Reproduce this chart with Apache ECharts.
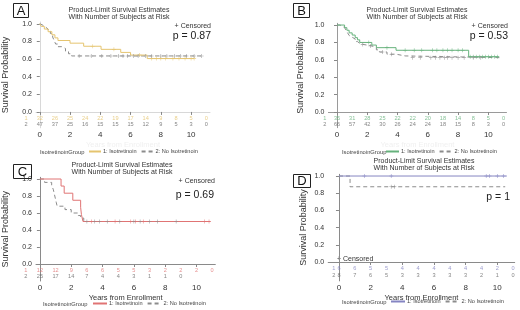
<!DOCTYPE html>
<html lang="en">
<head>
<meta charset="UTF-8">
<title>Survival by isotretinoin group</title>
<script src="https://cdn.jsdelivr.net/npm/echarts@6/dist/echarts.min.js"></script>
<style>html,body{margin:0;padding:0;background:#fff}</style>
</head>
<body>
<div id="main" style="width:520px;height:310px;"></div>
<script>
// at-risk tables (years 0..11)
var years = [0, 1, 2, 3, 4, 5, 6, 7, 8, 9, 10, 11];
var riskA1 = [32, 26, 25, 24, 22, 19, 17, 14, 9, 8, 5, 0];
var riskA2 = [47, 37, 25, 16, 15, 15, 15, 12, 9, 5, 3, 0];
var riskB1 = [35, 31, 28, 25, 22, 22, 20, 18, 14, 8, 5, 0];
var riskB2 = [66, 57, 42, 30, 26, 24, 24, 18, 15, 8, 3, 0];
var riskC1 = [12, 12, 9, 6, 6, 5, 5, 3, 2, 2, 2, 0];
var riskC2 = [25, 17, 14, 7, 4, 4, 3, 1, 1, 0];
var riskD1 = [6, 6, 5, 5, 4, 4, 4, 4, 4, 4, 2, 0];
var riskD2 = [8, 7, 6, 5, 3, 3, 3, 3, 3, 2, 1, 0];

// survival curves [years, probability]
var survA1 = [[0,1],[0.1,0.97],[0.3,0.94],[0.55,0.91],[0.8,0.875],[1.0,0.84],[1.2,0.81],[2.0,0.78],[2.9,0.745],[4.05,0.71],[5.35,0.675],[6.0,0.645],[7.1,0.605],[10.2,0.605]];
var survA2 = [[0,1],[0.1,0.98],[0.25,0.96],[0.4,0.94],[0.55,0.915],[0.7,0.89],[0.85,0.85],[0.95,0.81],[1.05,0.77],[1.2,0.74],[1.45,0.72],[1.7,0.69],[1.9,0.66],[2.1,0.635],[10.7,0.635]];
var survB1 = [[0,1],[0.5,0.97],[0.65,0.94],[0.8,0.91],[1.0,0.885],[1.2,0.855],[1.35,0.83],[1.5,0.8],[2.3,0.77],[2.6,0.74],[3.9,0.71],[8.7,0.635],[10.7,0.635]];
var survB2 = [[0,1],[0.2,0.985],[0.35,0.97],[0.5,0.955],[0.6,0.94],[0.7,0.91],[0.8,0.88],[0.9,0.86],[1.0,0.84],[1.2,0.81],[1.35,0.79],[1.5,0.775],[1.8,0.76],[2.3,0.74],[2.6,0.715],[2.8,0.69],[3.3,0.665],[3.9,0.645],[4.5,0.625],[10.8,0.625]];
var survC1 = [[0,1],[1.35,0.917],[1.55,0.833],[2.1,0.75],[2.6,0.667],[2.65,0.583],[2.75,0.5],[10.9,0.5]];
var survC2 = [[0,1],[0.3,0.96],[0.75,0.92],[0.85,0.88],[0.9,0.84],[0.95,0.8],[1.0,0.76],[1.05,0.72],[1.1,0.68],[1.6,0.64],[2.0,0.6],[2.45,0.57],[2.6,0.54],[2.8,0.5],[8.7,0.5]];
var survD1 = [[0,1],[10.6,1]];
var survD2 = [[0,1],[0.7,0.875],[10.5,0.875]];

// censoring times
var censA1 = [3.5, 4.9, 6.6, 7.4, 7.7, 8.0, 8.3, 8.8, 9.2, 9.6, 10.0, 10.2];
var censA2 = [2.6, 3.4, 4.1, 4.7, 5.2, 5.5, 5.8, 6.2, 6.5, 7.0, 7.4, 8.0, 8.4, 8.9, 9.3, 9.7, 10.2, 10.7];
var censB1 = [2.1, 3.3, 4.5, 5.1, 5.6, 6.3, 6.6, 7.0, 7.3, 7.6, 8.0, 8.3, 8.8, 9.0, 9.2, 9.4, 9.6, 9.8, 10.0, 10.2, 10.4, 10.6];
var censB2 = [1.7, 2.2, 3.0, 3.6, 5.0, 5.5, 6.2, 6.5, 6.8, 7.1, 7.3, 7.6, 8.0, 8.4, 9.0, 9.5];
var censC1 = [3.3, 4.8, 5.8, 6.1, 6.6, 10.5, 10.8];
var censC2 = [3.0, 3.5, 3.8, 4.3, 5.1, 6.0, 6.4, 7.0, 7.5, 8.7];
var censD1 = [1.6, 3.3, 9.3, 9.5, 10.0, 10.4];
var censD2 = [3.3, 3.5];

var pValues = ['p = 0.87', 'p = 0.53', 'p = 0.69', 'p = 1'];
var xTicks = [0, 2, 4, 6, 8, 10];
var yTicks = [0, 0.2, 0.4, 0.6, 0.8, 1.0];

var FONT = '"Liberation Sans", Arial, sans-serif';
var GREY = '#8c8c8c';
var plusIcon = 'path://M4,0h1.4v4h4v1.4h-4v4h-1.4v-4h-4v-1.4h4z';

function survAt(curve, t) {
    var s = curve[0][1];
    for (var i = 0; i < curve.length; i++) {
        if (curve[i][0] <= t) s = curve[i][1];
    }
    return s;
}

// panel layout
var panels = [
    {id: 'A', color: '#e5c46f', s1: survA1, s2: survA2, c1: censA1, c2: censA2, r1: riskA1, r2: riskA2,
     grid: {left: 32, top: 22, width: 178, height: 105.8}, xr: [-0.25, 11.25], yr: [-0.18, 1.02], rows: [-0.07, -0.137], rowX: -0.9,
     axis: '#d8d8d8', nameGap: 26, xname: '#f0f0f0'},
    {id: 'B', color: '#66b27c', s1: survB1, s2: survB2, c1: censB1, c2: censB2, r1: riskB1, r2: riskB2,
     grid: {left: 328.4, top: 23.3, width: 178.1, height: 104.4}, xr: [-0.57, 11.2], yr: [-0.18, 1.02], rows: [-0.07, -0.137], rowX: -0.8,
     axis: '#9a9a9a', nameGap: 23, xname: '#f0f0f0'},
    {id: 'C', color: '#e07474', s1: survC1, s2: survC2, c1: censC1, c2: censC2, r1: riskC1, r2: riskC2,
     grid: {left: 33.3, top: 177.3, width: 182, height: 103.7}, xr: [-0.25, 11.2], yr: [-0.2, 1.02], rows: [-0.078, -0.152], rowX: -0.9,
     axis: '#8a8a8a', nameGap: 26, xname: '#333'},
    {id: 'D', color: '#8585c2', s1: survD1, s2: survD2, c1: censD1, c2: censD2, r1: riskD1, r2: riskD2,
     grid: {left: 328.2, top: 174.3, width: 186.5, height: 106.6}, xr: [-0.68, 11.1], yr: [-0.22, 1.02], rows: [-0.08, -0.158], rowX: -0.32,
     axis: '#8a8a8a', nameGap: 20, xname: '#333'}
];

var grids = [], xAxes = [], yAxes = [], series = [], legends = [];

panels.forEach(function (p, i) {
    grids.push(p.grid);
    xAxes.push({
        type: 'value', gridIndex: i, min: p.xr[0], max: p.xr[1],
        splitLine: {show: false},
        axisLine: {lineStyle: {color: p.axis, width: 1}},
        axisTick: {customValues: xTicks, length: 3, lineStyle: {color: '#888'}},
        axisLabel: {customValues: xTicks, fontSize: 8, color: '#333', margin: 3, fontFamily: FONT},
        name: 'Years from Enrollment', nameLocation: 'middle', nameGap: 13,
        nameTextStyle: {fontSize: 7.5, color: p.xname, fontFamily: FONT}
    });
    yAxes.push({
        type: 'value', gridIndex: i, min: p.yr[0], max: p.yr[1],
        splitLine: {show: false},
        axisLine: {show: true, lineStyle: {color: p.axis, width: 1}},
        axisTick: {customValues: yTicks, length: 3, lineStyle: {color: '#888'}},
        axisLabel: {
            customValues: yTicks, fontSize: 7, color: '#333', margin: 4, fontFamily: FONT,
            formatter: function (v) { return v.toFixed(1); }
        },
        name: 'Survival Probability', nameLocation: 'middle', nameGap: p.nameGap, nameRotate: 90,
        nameTextStyle: {fontSize: 9, color: '#333', fontFamily: FONT}
    });
    series.push({
        name: p.id + '1', type: 'line', xAxisIndex: i, yAxisIndex: i, step: 'end', data: p.s1,
        symbol: 'none', lineStyle: {color: p.color, width: 1}, itemStyle: {color: p.color}, z: 3
    });
    series.push({
        name: p.id + '2', type: 'line', xAxisIndex: i, yAxisIndex: i, step: 'end', data: p.s2,
        symbol: 'none', lineStyle: {color: GREY, width: 1, type: [4, 3]}, itemStyle: {color: GREY}, z: 2
    });
    series.push({
        name: p.id + '1c', type: 'scatter', xAxisIndex: i, yAxisIndex: i, symbol: plusIcon, symbolSize: 4,
        itemStyle: {color: p.color}, data: p.c1.map(function (t) { return [t, survAt(p.s1, t)]; }), z: 4
    });
    series.push({
        name: p.id + '2c', type: 'scatter', xAxisIndex: i, yAxisIndex: i, symbol: plusIcon, symbolSize: 4,
        itemStyle: {color: GREY}, data: p.c2.map(function (t) { return [t, survAt(p.s2, t)]; }), z: 4
    });
    // number at risk rows, headed by the group number
    [[p.r1, p.rows[0], p.color, '1'], [p.r2, p.rows[1], '#666', '2']].forEach(function (r, k) {
        var pts = [[p.rowX, r[1], r[3]]].concat(r[0].map(function (n, j) { return [years[j], r[1], n]; }));
        series.push({
            name: p.id + (k + 1) + 'r', type: 'scatter', xAxisIndex: i, yAxisIndex: i, symbolSize: 0, clip: false,
            data: pts,
            labelLayout: {hideOverlap: false},
            label: {show: true, position: 'inside', fontSize: 5.6, color: r[2], fontFamily: FONT,
                    formatter: function (d) { return String(d.value[2]); }}
        });
    });
});

var legendSpots = [
    {left: 88, top: 148.5, w: 12},
    {left: 385, top: 148.5, w: 13},
    {left: 92, top: 300.5, w: 14},
    {left: 390, top: 298.5, w: 14}
];
var legendText = {'1': '1: Isotretinoin', '2': '2: No Isotretinoin'};
panels.forEach(function (p, i) {
    legends.push({
        data: [p.id + '1', p.id + '2'], left: legendSpots[i].left, top: legendSpots[i].top,
        itemWidth: legendSpots[i].w, itemHeight: 6, itemGap: 4, padding: 0, selectedMode: false,
        itemStyle: {opacity: 0},
        textStyle: {fontSize: 5.6, color: '#444', fontFamily: FONT, padding: [0, 0, 0, -3]},
        formatter: function (name) { return legendText[name.slice(1)]; }
    });
});

function txt(x, y, s, size, align, color) {
    return {type: 'text', x: x, y: y, silent: true,
            style: {text: s, fill: color || '#333', font: size + 'px ' + FONT, align: align || 'left', verticalAlign: 'middle'}};
}
function box(x, y, w, h, s) {
    return [
        {type: 'rect', shape: {x: x, y: y, width: w, height: h}, style: {fill: '#fff', stroke: '#222', lineWidth: 1}, silent: true},
        txt(x + w / 2, y + h / 2 + 0.5, s, 13, 'center', '#111')
    ];
}

var graphics = [].concat(
    box(13.5, 3.5, 15, 14, 'A'), box(293.5, 3.5, 16, 14, 'B'),
    box(13.5, 164.5, 18, 14, 'C'), box(293.5, 174.5, 17, 13, 'D'),
    [
        txt(119, 10, 'Product-Limit Survival Estimates', 7, 'center'),
        txt(119, 17, 'With Number of Subjects at Risk', 7, 'center'),
        txt(417, 10, 'Product-Limit Survival Estimates', 7, 'center'),
        txt(417, 17, 'With Number of Subjects at Risk', 7, 'center'),
        txt(122, 165, 'Product-Limit Survival Estimates', 7, 'center'),
        txt(122, 172, 'With Number of Subjects at Risk', 7, 'center'),
        txt(424, 161, 'Product-Limit Survival Estimates', 7, 'center'),
        txt(424, 168.5, 'With Number of Subjects at Risk', 7, 'center'),
        txt(211, 26, '+ Censored', 7, 'right'),
        txt(211, 36, pValues[0], 10.5, 'right', '#222'),
        txt(508, 26, '+ Censored', 7, 'right'),
        txt(508, 36, pValues[1], 10.5, 'right', '#222'),
        txt(215, 181, '+ Censored', 7, 'right'),
        txt(214, 195, pValues[2], 10.5, 'right', '#222'),
        txt(337, 259, '+ Censored', 7, 'left'),
        txt(510, 197, pValues[3], 10.5, 'right', '#222'),
        txt(40, 152, 'IsotretinoinGroup', 5.8, 'left', '#444'),
        txt(342, 152, 'IsotretinoinGroup', 5.8, 'left', '#444'),
        txt(43, 304, 'IsotretinoinGroup', 5.8, 'left', '#444'),
        txt(342, 302, 'IsotretinoinGroup', 5.8, 'left', '#444')
    ]
);

var myChart = echarts.init(document.getElementById('main'));
myChart.setOption({
    animation: false,
    backgroundColor: '#fff',
    grid: grids,
    xAxis: xAxes,
    yAxis: yAxes,
    legend: legends,
    series: series,
    graphic: graphics
});
</script>
</body>
</html>
